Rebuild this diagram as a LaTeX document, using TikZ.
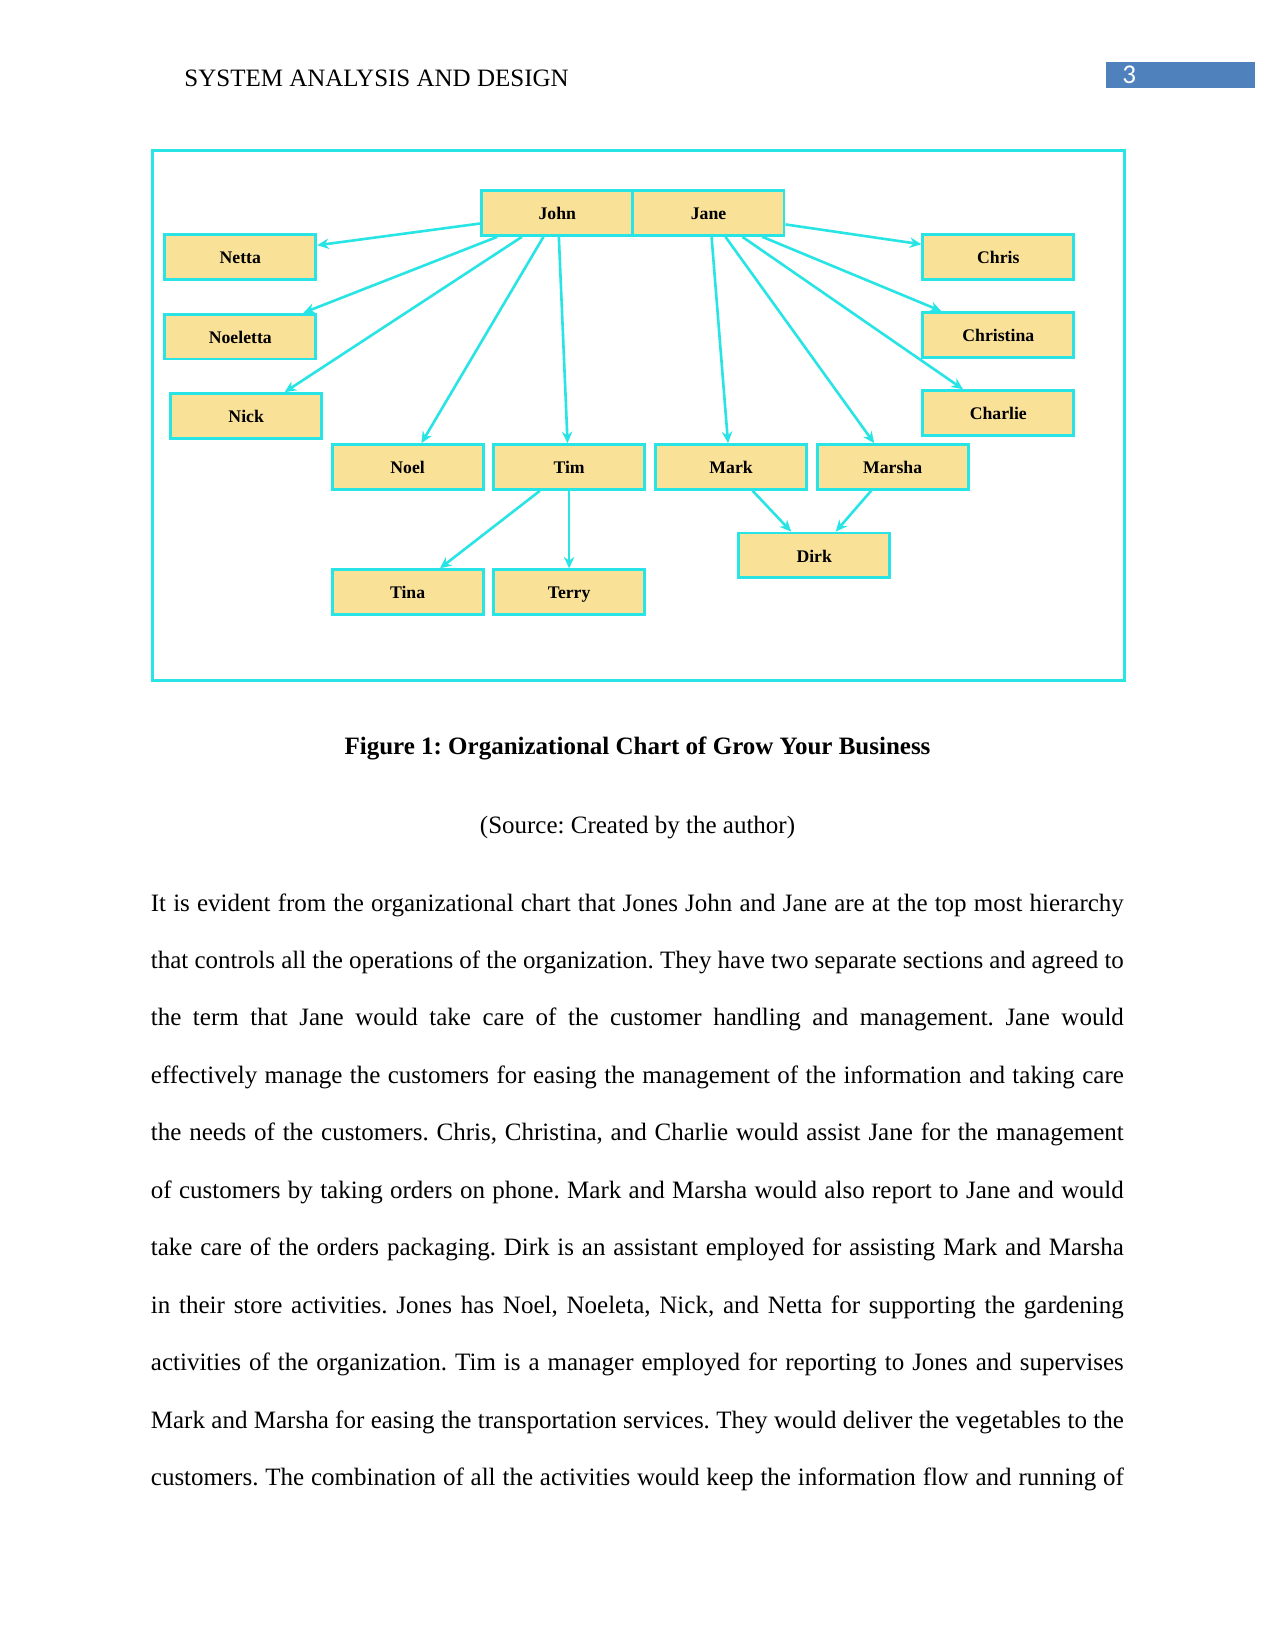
\documentclass[tikz,border=0pt]{standalone}
\usepackage{fontspec}
\setmainfont{Liberation Serif}
\newfontfamily\numfont{Carlito}
\usetikzlibrary{arrows.meta,calc}
\definecolor{cyanline}{RGB}{40,228,228}
\definecolor{boxfill}{RGB}{250,225,152}
\definecolor{pgblue}{RGB}{79,129,189}
\frenchspacing
\begin{document}
\begin{tikzpicture}[x=0.48pt,y=-0.48pt,
  person/.style={draw=cyanline, line width=1.4pt, fill=boxfill, minimum width=72.5pt, minimum height=21.5pt, inner sep=0pt, text height=7.5pt, text depth=1pt, font=\fontsize{8.5}{10}\selectfont\bfseries},
  link/.style={draw=cyanline, line width=1.25pt, -{Stealth[length=5.5pt,width=5pt]}},
  bodyline/.style={anchor=base west, inner sep=0pt, font=\fontsize{12}{14}\selectfont}]
\useasboundingbox[fill=white] (0,0) rectangle (1275,1650);

% header
\node[anchor=base west, inner sep=0pt, font=\fontsize{12}{14}\selectfont] (header) at (184,87) {SYSTEM ANALYSIS AND DESIGN};
\node[fill=pgblue, anchor=north west, minimum width=71.5pt, minimum height=12.5pt, inner sep=0pt] (pgbox) at (1106,62) {};
\node[anchor=base west, inner sep=0pt, text=white, font=\numfont\fontsize{13}{14}\selectfont] (pgnum) at (1122,84) {3};

% frame
\draw[cyanline, line width=1.5pt] (152.5,150.5) rectangle (1124.5,680.5);

% nodes
\node[person] (john) at (557.3,213) {John};
\node[person] (jane) at (708.5,213) {Jane};
\node[person] (netta) at (240.3,257.2) {Netta};
\node[person] (noeletta) at (240.3,336.6) {Noeletta};
\node[person] (nick) at (246.2,416) {Nick};
\node[person] (chris) at (998.3,257.2) {Chris};
\node[person] (christina) at (998.3,335) {Christina};
\node[person] (charlie) at (998.3,413) {Charlie};
\node[person] (noel) at (407.6,467) {Noel};
\node[person] (tim) at (569.1,467) {Tim};
\node[person] (mark) at (731.1,467) {Mark};
\node[person] (marsha) at (892.6,467) {Marsha};
\node[person] (dirk) at (814.2,555.4) {Dirk};
\node[person] (tina) at (407.6,592.2) {Tina};
\node[person] (terry) at (569.1,592.2) {Terry};

% links from John
\draw[link] ($(john.north west)!0.72!(john.south west)$) -- ($(netta.north east)!0.25!(netta.south east)$);
\draw[link] ($(john.south west)!0.11!(john.south east)$) -- ($(noeletta.north west)!0.91!(noeletta.north east)$);
\draw[link] ($(john.south west)!0.27!(john.south east)$) -- ($(nick.north west)!0.75!(nick.north east)$);
\draw[link] ($(john.south west)!0.41!(john.south east)$) -- ($(noel.north west)!0.59!(noel.north east)$);
\draw[link] ($(john.south west)!0.51!(john.south east)$) -- ($(tim.north west)!0.49!(tim.north east)$);
% links from Jane
\draw[link] ($(jane.north east)!0.74!(jane.south east)$) -- ($(chris.north west)!0.23!(chris.south west)$);
\draw[link] ($(jane.south west)!0.85!(jane.south east)$) -- ($(christina.north west)!0.13!(christina.north east)$);
\draw[link] ($(jane.south west)!0.72!(jane.south east)$) -- ($(charlie.north west)!0.27!(charlie.north east)$);
\draw[link] ($(jane.south west)!0.61!(jane.south east)$) -- ($(marsha.north west)!0.38!(marsha.north east)$);
\draw[link] ($(jane.south west)!0.52!(jane.south east)$) -- ($(mark.north west)!0.48!(mark.north east)$);
% lower links
\draw[link] ($(tim.south west)!0.31!(tim.south east)$) -- ($(tina.north west)!0.71!(tina.north east)$);
\draw[link] ($(tim.south west)!0.5!(tim.south east)$) -- ($(terry.north west)!0.5!(terry.north east)$);
\draw[link] ($(mark.south west)!0.64!(mark.south east)$) -- ($(dirk.north west)!0.35!(dirk.north east)$);
\draw[link] ($(marsha.south west)!0.36!(marsha.south east)$) -- ($(dirk.north west)!0.64!(dirk.north east)$);

% caption
\node[anchor=base, inner sep=0pt, font=\fontsize{12}{14}\selectfont\bfseries] (cap) at (637.5,754) {Figure 1: Organizational Chart of Grow Your Business};
\node[anchor=base, inner sep=0pt, font=\fontsize{12}{14}\selectfont] (src) at (637.5,833) {(Source: Created by the author)};

% body text
\node[bodyline] (l1) at (150.5,911) {\makebox[467pt][s]{It is evident from the organizational chart that Jones John and Jane are at the top most hierarchy}};
\node[bodyline] (l2) at (150.5,968.45) {\makebox[467pt][s]{that controls all the operations of the organization. They have two separate sections and agreed to}};
\node[bodyline] (l3) at (150.5,1025.9) {\makebox[467pt][s]{the term that Jane would take care of the customer handling and management. Jane would}};
\node[bodyline] (l4) at (150.5,1083.35) {\makebox[467pt][s]{effectively manage the customers for easing the management of the information and taking care}};
\node[bodyline] (l5) at (150.5,1140.8) {\makebox[467pt][s]{the needs of the customers. Chris, Christina, and Charlie would assist Jane for the management}};
\node[bodyline] (l6) at (150.5,1198.25) {\makebox[467pt][s]{of customers by taking orders on phone. Mark and Marsha would also report to Jane and would}};
\node[bodyline] (l7) at (150.5,1255.7) {\makebox[467pt][s]{take care of the orders packaging. Dirk is an assistant employed for assisting Mark and Marsha}};
\node[bodyline] (l8) at (150.5,1313.15) {\makebox[467pt][s]{in their store activities. Jones has Noel, Noeleta, Nick, and Netta for supporting the gardening}};
\node[bodyline] (l9) at (150.5,1370.6) {\makebox[467pt][s]{activities of the organization. Tim is a manager employed for reporting to Jones and supervises}};
\node[bodyline] (l10) at (150.5,1428.05) {\makebox[467pt][s]{Mark and Marsha for easing the transportation services. They would deliver the vegetables to the}};
\node[bodyline] (l11) at (150.5,1485.5) {\makebox[467pt][s]{customers. The combination of all the activities would keep the information flow and running of}};
\end{tikzpicture}
\end{document}
